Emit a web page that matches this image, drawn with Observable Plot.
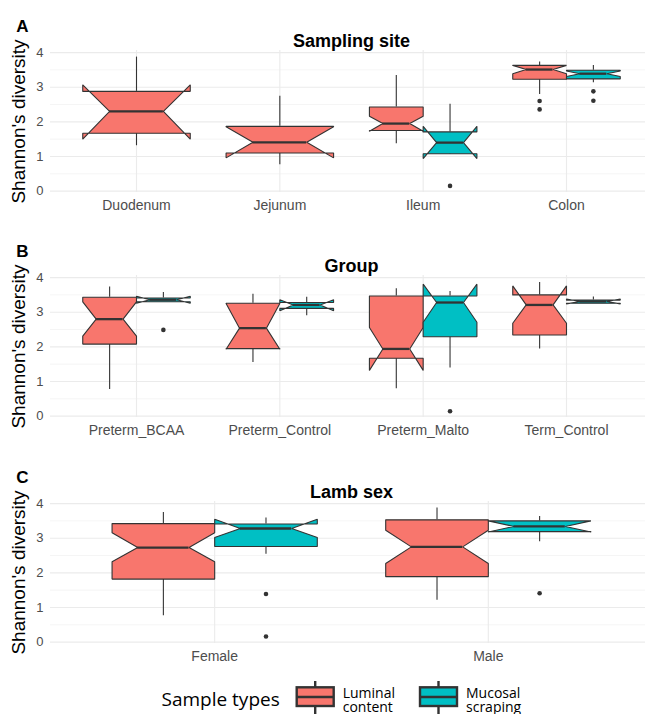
<!DOCTYPE html>
<html><head><meta charset="utf-8">
<script src="https://cdn.jsdelivr.net/npm/d3@7"></script>
<script src="https://cdn.jsdelivr.net/npm/@observablehq/plot@0.6"></script>
<style>
body{margin:0;background:#fff;}
#wrap{position:relative;width:645px;height:714px;overflow:hidden;font-family:"Liberation Sans",Arial,sans-serif;}
#wrap > svg{position:absolute;left:0;}
</style></head><body><div id="wrap"></div>
<script>
const siteCategories = ["Duodenum","Jejunum","Ileum","Colon"];
const groupCategories = ["Preterm_BCAA","Preterm_Control","Preterm_Malto","Term_Control"];
const sexCategories = ["Female","Male"];
const sampleTypes = ["Luminal content","Mucosal scraping"];
const typeColors = ["#F8766D","#00BFC4"];
const yMajorTicks = [0,1,2,3,4];
const yMinorTicks = [0.5,1.5,2.5,3.5];

// [category, type, whiskerLow, q1, notchLow, median, notchHigh, q3, whiskerHigh]
const siteBoxes = [
  ["Duodenum","Luminal content",1.31,1.67,1.50,2.30,3.07,2.88,3.87],
  ["Jejunum","Luminal content",0.76,1.10,0.96,1.41,1.86,1.87,2.74],
  ["Ileum","Luminal content",1.37,1.75,1.73,1.95,2.16,2.43,3.34],
  ["Ileum","Mucosal scraping",1.06,1.08,0.94,1.40,1.87,1.71,2.51],
  ["Colon","Luminal content",2.79,3.23,3.39,3.51,3.63,3.63,3.73],
  ["Colon","Mucosal scraping",3.13,3.24,3.31,3.39,3.47,3.49,3.63]
];
const siteOutliers = [
  ["Ileum","Mucosal scraping",0.15],
  ["Colon","Luminal content",2.60],
  ["Colon","Luminal content",2.36],
  ["Colon","Mucosal scraping",2.88],
  ["Colon","Mucosal scraping",2.61]
];
const groupBoxes = [
  ["Preterm_BCAA","Luminal content",0.77,2.08,2.31,2.80,3.30,3.43,3.73],
  ["Preterm_BCAA","Mucosal scraping",3.30,3.30,3.26,3.36,3.46,3.41,3.57],
  ["Preterm_Control","Luminal content",1.55,1.95,1.93,2.54,3.25,3.26,3.52],
  ["Preterm_Control","Mucosal scraping",2.90,3.11,3.04,3.21,3.36,3.28,3.43],
  ["Preterm_Malto","Luminal content",0.79,1.67,1.32,1.94,2.56,3.47,3.68],
  ["Preterm_Malto","Mucosal scraping",1.39,2.29,2.71,3.28,3.81,3.47,3.60],
  ["Term_Control","Luminal content",1.94,2.34,2.68,3.21,3.76,3.50,3.86],
  ["Term_Control","Mucosal scraping",3.26,3.26,3.24,3.31,3.38,3.35,3.44]
];
const groupOutliers = [
  ["Preterm_BCAA","Mucosal scraping",2.49],
  ["Preterm_Malto","Mucosal scraping",0.14]
];
const sexBoxes = [
  ["Female","Luminal content",0.76,1.82,2.32,2.73,3.16,3.42,3.74],
  ["Female","Mucosal scraping",2.54,2.76,3.02,3.28,3.55,3.41,3.58],
  ["Male","Luminal content",1.21,1.89,2.27,2.75,3.23,3.53,3.87],
  ["Male","Mucosal scraping",2.90,3.19,3.18,3.34,3.50,3.50,3.63]
];
const sexOutliers = [
  ["Female","Mucosal scraping",1.39],
  ["Female","Mucosal scraping",0.16],
  ["Male","Mucosal scraping",1.41]
];

function boxRows(cats, boxes){
  return boxes.map(([cat,type,lo,q1,nl,med,nu,q3,hi],i)=>{
    const c = cats.indexOf(cat)+1;
    const both = boxes.filter(b=>b[0]===cat).length>1;
    const t = sampleTypes.indexOf(type);
    const xmin = both ? c-0.375+t*0.375 : c-0.375;
    const xmax = both ? xmin+0.375 : c+0.375;
    const ind = (xmax-xmin)*0.25;
    return {id:i,cat,type,t,cx:(xmin+xmax)/2,xmin,xmax,ind,lo,q1,nl,med,nu,q3,hi};
  });
}
function polygon(rows){
  const v=[];
  rows.forEach(b=>{
    const pts=[[b.xmin,b.q3],[b.xmin,b.nu],[b.xmin+b.ind,b.med],[b.xmin,b.nl],[b.xmin,b.q1],
               [b.xmax,b.q1],[b.xmax,b.nl],[b.xmax-b.ind,b.med],[b.xmax,b.nu],[b.xmax,b.q3],[b.xmin,b.q3]];
    pts.forEach(([x,y])=>v.push({id:b.id,t:b.t,x,y}));
  });
  return v;
}

function panel(cats, boxes, outliers, letter, title, top){
  const ppu = 602/(cats.length+0.2);
  const rows = boxRows(cats, boxes);
  const verts = polygon(rows);
  const outs = outliers.map(([cat,type,v])=>{
    const r = rows.find(b=>b.cat===cat && b.type===type);
    return {x:r.cx, y:v};
  });
  const ticksX = cats.map((_,i)=>i+1);
  const chart = Plot.plot({
    width:645, height:215, marginLeft:50, marginRight:0, marginTop:50, marginBottom:23,
    x:{domain:[0.4, 0.4+595/ppu]},
    y:{domain:[-0.04,4.06]},
    style:{fontFamily:"'Liberation Sans', Arial, sans-serif", color:"#4d4d4d", background:"transparent", overflow:"visible"},
    marks:[
      Plot.ruleY(yMinorTicks,{stroke:"#efefef",strokeWidth:0.6}),
      Plot.ruleY(yMajorTicks,{stroke:"#ebebeb",strokeWidth:1.1}),
      Plot.ruleX(ticksX,{stroke:"#ebebeb",strokeWidth:1.1}),
      Plot.ruleX(rows,{x:"cx",y1:"q3",y2:"hi",stroke:"#333",strokeWidth:1.1}),
      Plot.ruleX(rows,{x:"cx",y1:"q1",y2:"lo",stroke:"#333",strokeWidth:1.1}),
      Plot.line(verts.filter(d=>d.t===0),{x:"x",y:"y",z:"id",fill:typeColors[0],stroke:"#333",strokeWidth:1.1,strokeLinejoin:"miter",curve:"linear"}),
      Plot.line(verts.filter(d=>d.t===1),{x:"x",y:"y",z:"id",fill:typeColors[1],stroke:"#333",strokeWidth:1.1,strokeLinejoin:"miter",curve:"linear"}),
      Plot.ruleY(rows,{y:"med",x1:d=>d.xmin+d.ind,x2:d=>d.xmax-d.ind,stroke:"#333",strokeWidth:2.3}),
      Plot.dot(outs,{x:"x",y:"y",r:2.3,fill:"#333",stroke:null}),
      Plot.axisX({ticks:ticksX,tickFormat:i=>cats[i-1],tickSize:0,tickPadding:8,fontSize:14,label:null}),
      Plot.axisY({ticks:yMajorTicks,tickFormat:d=>String(d),tickSize:0,tickPadding:7,fontSize:13,label:null}),
      Plot.text([letter],{frameAnchor:"top-left",dx:-28,dy:-30.4,fontSize:17,fontWeight:"bold",fill:"#000",textAnchor:"middle"}),
      Plot.text([title],{frameAnchor:"top",dx:3.5,dy:-16.3,fontSize:18,fontWeight:"bold",fill:"#000"}),
      Plot.text(["Shannon's diversity"],{frameAnchor:"left",dx:-32,rotate:-90,textAnchor:"middle",fontSize:19,fill:"#000"})
    ]
  });
  chart.style.top = top+"px";
  return chart;
}

const wrap = document.getElementById("wrap");
wrap.appendChild(panel(siteCategories, siteBoxes, siteOutliers, "A", "Sampling site", 0));
wrap.appendChild(panel(groupCategories, groupBoxes, groupOutliers, "B", "Group", 224.6));
wrap.appendChild(panel(sexCategories, sexBoxes, sexOutliers, "C", "Lamb sex", 450.6));

// legend
const leg = d3.create("svg").attr("width",645).attr("height",714).style("top","0px").style("pointer-events","none");
leg.append("text").attr("x",161.5).attr("y",705.5).attr("font-family","'Open Sans', sans-serif").attr("font-size",19).attr("fill","#000").text("Sample types");
const keyX = [296.7, 420];
const keyLabels = [["Luminal","content"],["Mucosal","scraping"]];
keyX.forEach((x0,i)=>{
  const w = 37, cx = x0+w/2;
  leg.append("line").attr("x1",cx).attr("x2",cx).attr("y1",681).attr("y2",716).attr("stroke","#333").attr("stroke-width",2.4);
  leg.append("rect").attr("x",x0).attr("y",687.3).attr("width",w).attr("height",18.7).attr("fill",typeColors[i]).attr("stroke","#333").attr("stroke-width",2.4);
  leg.append("line").attr("x1",x0).attr("x2",x0+w).attr("y1",697).attr("y2",697).attr("stroke","#333").attr("stroke-width",2.6);
  leg.append("text").attr("x",x0+w+9).attr("y",697.5).attr("font-family","'Open Sans', sans-serif").attr("font-size",14).attr("fill","#000").text(keyLabels[i][0]);
  leg.append("text").attr("x",x0+w+9).attr("y",711.5).attr("font-family","'Open Sans', sans-serif").attr("font-size",14).attr("fill","#000").text(keyLabels[i][1]);
});
wrap.appendChild(leg.node());
</script>
</body></html>
